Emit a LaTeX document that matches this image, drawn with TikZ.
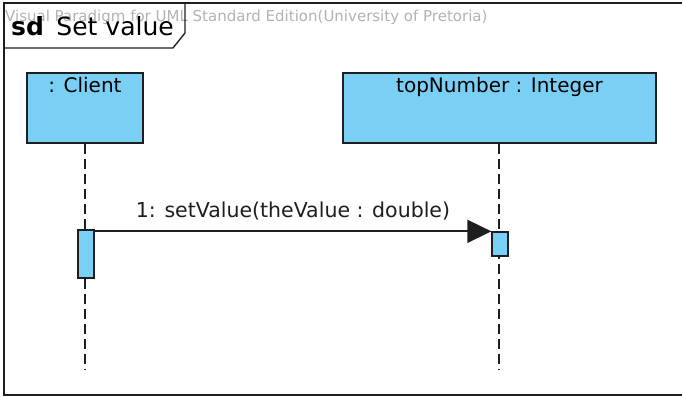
\documentclass[tikz,border=0pt]{standalone}
\usepackage{fontspec}
\setmainfont{DejaVu Sans}
\usetikzlibrary{arrows.meta}
\definecolor{vpblue}{RGB}{122,207,245}
\definecolor{vpline}{RGB}{30,30,30}
\tikzset{
  lifebox/.style={draw=vpline,line width=1.4pt,fill=vpblue,inner sep=0pt},
  boxname/.style={anchor=north,inner sep=0pt,font=\fontsize{20}{22}\selectfont},
  activation/.style={draw=vpline,line width=1.3pt,fill=vpblue,minimum width=16pt,inner sep=0pt},
  lifeline/.style={vpline,line width=1.4pt,dash pattern=on 10pt off 5pt},
  message/.style={vpline,line width=1.8pt,-{Triangle[length=24pt,width=23pt]}},
}

\begin{document}
\begin{tikzpicture}[x=1pt,y=-1pt]
\useasboundingbox (0,0) rectangle (682,396);
\clip (0,0) rectangle (682,396);
% frame
\draw[vpline,line width=1.6pt](4,3) rectangle (700,395);
\node[anchor=west,inner sep=0pt,text=gray!60,font=\fontsize{15}{17}\selectfont] (watermark) at (5,17) {Visual Paradigm for UML Standard Edition(University of Pretoria)};
\draw[vpline,line width=1.4pt](4,48)--(173,48)--(185,33)--(185,3);
\node[anchor=west,inner sep=0pt,font=\fontsize{25}{27}\selectfont] (title) at (11,26) {\textbf{sd}\enspace Set value};
% lifelines
\node[lifebox,minimum width=116pt,minimum height=70pt] (client) at (85,108) {};
\node[boxname] (client-name) at ([yshift=-5pt]client.north) {: Client};
\node[lifebox,minimum width=313pt,minimum height=70pt] (topnum) at (499.5,108) {};
\node[boxname] (topnum-name) at ([yshift=-5pt]topnum.north) {topNumber : Integer};
\coordinate (client-end) at (85,370);
\coordinate (topnum-end) at (499,370);
\draw[lifeline](client.south)--(client-end);
\draw[lifeline](topnum.south-|topnum-end)--(topnum-end);
% activations
\node[activation,minimum height=48pt] (client-act) at (86,254) {};
\node[activation,minimum height=24pt] (topnum-act) at (500,244) {};
\draw[message](client-act.east|-topnum-act.north)--(topnum-act.north west)
  node[midway,above=10pt,inner sep=0pt,font=\fontsize{20.5}{22}\selectfont] (msg) {1: setValue(theValue : double)};
\end{tikzpicture}
\end{document}
